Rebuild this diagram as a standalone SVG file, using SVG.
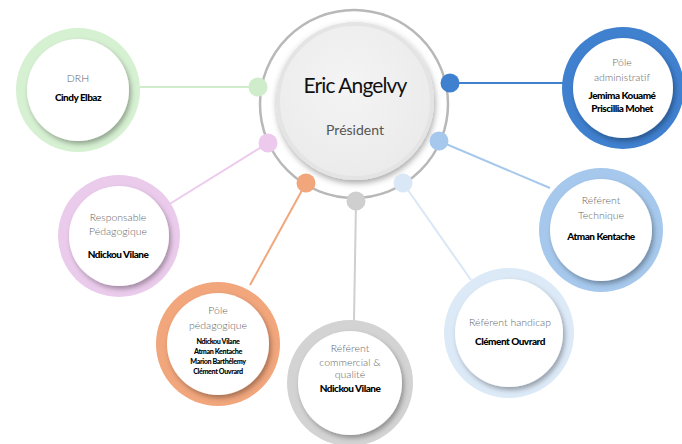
<svg xmlns="http://www.w3.org/2000/svg" width="682" height="444" viewBox="0 0 682 444">
<defs>
<filter id="sh" x="-20%" y="-20%" width="150%" height="150%">
<feDropShadow dx="2" dy="3" stdDeviation="2.5" flood-color="#000" flood-opacity="0.32"/>
</filter>
<filter id="shc" x="-20%" y="-20%" width="150%" height="150%">
<feDropShadow dx="1" dy="3" stdDeviation="3" flood-color="#000" flood-opacity="0.35"/>
</filter>
<radialGradient id="cg" cx="0.45" cy="0.4" r="0.6">
<stop offset="0" stop-color="#f4f4f4"/>
<stop offset="1" stop-color="#ebebeb"/>
</radialGradient>
</defs>
<style>
text{font-family:Lato,"Liberation Sans",sans-serif;text-anchor:middle}
.t{font-size:10.5px;fill:#666;font-weight:300}
.n{font-size:10px;fill:#000;font-weight:900;letter-spacing:-0.5px}
.s{font-size:7.2px;fill:#000;font-weight:900;letter-spacing:-0.4px}
.w{fill:#fff;filter:url(#sh)}
.c line{stroke-width:2}
</style>
<rect width="682" height="444" fill="#fff"/>
<g id="connectors" class="c">
<line x1="140" y1="87" x2="258" y2="87" stroke="#cfeccb"/>
<line x1="450" y1="83" x2="566" y2="83" stroke="#3f80cf"/>
<line x1="268" y1="143" x2="168" y2="205" stroke="#ecc9ed"/>
<line x1="439" y1="141" x2="550" y2="188" stroke="#a6c8ec"/>
<line x1="306" y1="183" x2="250" y2="285" stroke="#f1a67c"/>
<line x1="356" y1="201" x2="354" y2="321" stroke="#cfcfcf"/>
<line x1="403" y1="183" x2="471" y2="280" stroke="#d9e7f6"/>
</g>
<g id="center">
<circle cx="354" cy="104" r="94" fill="none" stroke="#b8b8b8" stroke-width="2.5"/>
<circle cx="355" cy="101" r="77" fill="url(#cg)" stroke="#e4e4e4" stroke-width="4" filter="url(#shc)"/>
<text x="355" y="93" style="font-size:21px;fill:#111;letter-spacing:-0.9px">Eric Angelvy</text>
<text x="355" y="135" style="font-size:14px;fill:#555">Président</text>
<circle cx="258" cy="87" r="9.5" fill="#cfeccb"/>
<circle cx="450" cy="83" r="9.5" fill="#3f80cf"/>
<circle cx="268" cy="143" r="9.5" fill="#ecc9ed"/>
<circle cx="439" cy="141" r="9.5" fill="#a6c8ec"/>
<circle cx="306" cy="183" r="9.5" fill="#f1a67c"/>
<circle cx="356" cy="201" r="9.5" fill="#cfcfcf"/>
<circle cx="403" cy="183" r="9.5" fill="#d9e7f6"/>
</g>
<g id="drh">
<circle cx="78" cy="90" r="62" fill="#d6f0d2"/>
<circle cx="78" cy="90" r="51" class="w"/>
<text x="78" y="82" class="t">DRH</text>
<text x="78" y="101" class="n">Cindy Elbaz</text>
</g>
<g id="pole-admin">
<circle cx="623" cy="88" r="61" fill="#3f80cf"/>
<circle cx="623" cy="88" r="50" class="w"/>
<text x="622" y="66" class="t">Pôle</text>
<text x="622" y="81" class="t">administratif</text>
<text x="622" y="99" class="n">Jemima Kouamé</text>
<text x="622" y="112" class="n">Priscillia Mohet</text>
</g>
<g id="resp-peda">
<circle cx="119" cy="236" r="61" fill="#ebcbec"/>
<circle cx="119" cy="236" r="50" class="w"/>
<text x="118" y="221" class="t">Responsable</text>
<text x="118" y="235" class="t">Pédagogique</text>
<text x="118" y="258" class="n">Ndickou Vilane</text>
</g>
<g id="ref-tech">
<circle cx="601" cy="230" r="62" fill="#a6c8ec"/>
<circle cx="601" cy="230" r="51" class="w"/>
<text x="601" y="204" class="t">Référent</text>
<text x="601" y="219" class="t">Technique</text>
<text x="601" y="240" class="n">Atman Kentache</text>
</g>
<g id="pole-peda">
<circle cx="218" cy="344" r="62" fill="#f1a67c"/>
<circle cx="218" cy="344" r="51" class="w"/>
<text x="218" y="314" class="t">Pôle</text>
<text x="218" y="329" class="t">pédagogique</text>
<text x="218" y="344" class="s">Ndickou Vilane</text>
<text x="218" y="354" class="s">Atman Kentache</text>
<text x="218" y="364" class="s">Marion Barthélemy</text>
<text x="218" y="374" class="s">Clément Ouvrard</text>
</g>
<g id="ref-comm">
<circle cx="350" cy="383" r="63" fill="#d3d3d3"/>
<circle cx="350" cy="383" r="52" class="w"/>
<text x="350" y="352" class="t">Référent</text>
<text x="350" y="366" class="t">commercial &amp;</text>
<text x="350" y="378" class="t">qualité</text>
<text x="350" y="392" class="n">Ndickou Vilane</text>
</g>
<g id="ref-handicap">
<circle cx="509" cy="333" r="65" fill="#dce9f7"/>
<circle cx="509" cy="333" r="54" class="w"/>
<text x="510" y="326" class="t">Référent handicap</text>
<text x="510" y="345" class="n">Clément Ouvrard</text>
</g>
</svg>
